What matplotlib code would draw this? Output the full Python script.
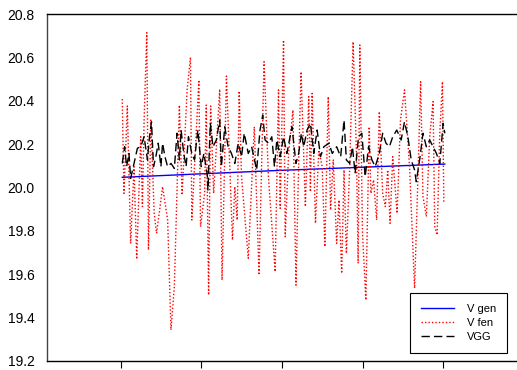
import numpy as np
import matplotlib.pyplot as plt

plt.rcParams['font.family'] = ['Liberation Sans', 'DejaVu Sans']

# Sample positions (1 tick = 240 samples) and readings for each series
gen_idx = [5, 460, 965]
v_gen = [20.047, 20.078, 20.108]

fen_idx = [5, 10, 20, 30, 40, 48, 60, 65, 70, 78,
           83, 90, 100, 107, 115, 125, 140, 150, 160, 175,
           183, 198, 208, 212, 223, 233, 238, 250, 255, 262,
           268, 277, 295, 302, 315, 333, 340, 347, 353, 360,
           380, 398, 412, 427, 440, 460,
           470, 475, 485, 490, 500, 513, 522, 530, 537, 550,
           560, 565, 570, 580, 590, 600, 608, 618, 625, 633,
           643, 650, 658, 665, 672, 682, 692, 702, 707, 712,
           720, 730, 740, 745, 753, 762, 770, 780, 788, 795,
           802, 810, 823, 833, 845, 860, 875, 885, 893, 900,
           910, 920, 930, 935, 942, 950, 958, 962]
v_fen = [20.408, 19.973, 20.376, 19.742, 20.096, 19.669, 20.234, 19.912, 20.311, 20.714,
         19.712, 20.311, 19.881, 19.789, 19.881, 20.004, 19.850, 19.343, 19.543, 20.380,
         19.965, 20.450, 20.600, 19.850, 20.188, 20.496, 19.819, 19.973, 20.380, 19.504,
         20.376, 19.973, 20.453, 19.573, 20.514, 19.758, 20.004, 19.850, 20.445, 20.050,
         19.673, 20.280, 19.596, 20.580, 20.050, 19.612,
         20.450, 19.904, 20.680, 19.773, 20.157, 20.357, 19.550, 20.111, 20.534, 19.912,
         20.419, 19.980, 20.434, 19.835, 20.173, 20.096, 19.727, 20.419, 19.896, 20.127,
         19.742, 19.942, 19.604, 20.081, 19.696, 20.096, 20.672, 20.157, 19.650, 20.657,
         19.789, 19.481, 20.280, 19.973, 20.035, 19.850, 20.350, 19.973, 19.912, 20.081,
         19.835, 20.142, 19.881, 20.311, 20.450, 20.096, 19.535, 20.050, 20.488, 19.958,
         19.866, 20.234, 20.396, 19.819, 19.781, 20.250, 20.488, 19.927]

vgg_idx = [5, 12, 18, 25, 30, 40, 50, 60, 70, 80,
           85, 92, 98, 105, 112, 120, 125, 132, 140, 150,
           160, 168, 175, 180, 188, 195, 202, 212, 220, 230,
           240, 248, 258, 260, 267, 275, 285, 295, 300, 310,
           320, 330, 340, 350, 360, 368, 380, 390, 405, 415,
           423, 430, 440,
           450, 458, 465, 475, 485, 495, 510, 522, 530, 538,
           545, 555, 565, 575, 585, 595, 605, 620, 630, 643,
           655, 665, 672, 682, 690, 698, 708, 718, 728, 738,
           748, 758, 770, 780, 790, 800, 810, 822, 835, 845,
           855, 865, 875, 880, 890, 900, 910, 920, 930, 940,
           950, 960, 965]
v_gg = [20.111, 20.188, 20.096, 20.157, 20.042, 20.111, 20.181, 20.188, 20.234, 20.127,
        20.219, 20.303, 20.096, 20.142, 20.204, 20.096, 20.204, 20.142, 20.096, 20.111,
        20.088, 20.250, 20.127, 20.265, 20.157, 20.096, 20.234, 20.157, 20.127, 20.265,
        20.096, 20.157, 20.058, 19.988, 20.296, 20.188, 20.219, 20.311, 20.096, 20.280,
        20.188, 20.157, 20.111, 20.204, 20.142, 20.250, 20.157, 20.188, 20.081, 20.265,
        20.334, 20.219, 20.204,
        20.234, 20.096, 20.219, 20.142, 20.234, 20.157, 20.280, 20.111, 20.157, 20.250,
        20.188, 20.265, 20.296, 20.157, 20.265, 20.142, 20.188, 20.204, 20.157, 20.188,
        20.142, 20.311, 20.127, 20.111, 20.188, 20.065, 20.234, 20.250, 20.050, 20.188,
        20.127, 20.096, 20.157, 20.250, 20.204, 20.188, 20.234, 20.265, 20.219, 20.303,
        20.234, 20.127, 20.081, 20.027, 20.127, 20.250, 20.188, 20.219, 20.188, 20.157,
        20.111, 20.296, 20.250]

x_gen = np.array(gen_idx) / 240
x_fen = np.array(fen_idx) / 240
x_gg = np.array(vgg_idx) / 240

fig = plt.figure(figsize=(5.17, 3.70), dpi=100)
ax = fig.add_axes([47 / 517, 1 - 361 / 370, 1 - 47 / 517 + 0.01, (361 - 14) / 370])

ax.plot(x_gen, v_gen, color='blue', lw=1, label='V gen')
ax.plot(x_fen, v_fen, color='red', lw=1, linestyle=(0, (1, 1.5)), label='V fen')
ax.plot(x_gg, v_gg, color='black', lw=1, linestyle=(0, (6, 3)), label='VGG')

ax.set_xlim(-0.9125, 4.98)
ax.set_ylim(19.2, 20.8)
ax.set_yticks(np.arange(19.2, 20.81, 0.2))
ax.set_yticklabels([f'{v:.1f}' for v in np.arange(19.2, 20.81, 0.2)])
ax.set_xticks([0, 1, 2, 3, 4])
ax.set_xticklabels([])
ax.tick_params(axis='x', direction='out', length=5, width=0.8)
ax.tick_params(axis='y', length=0, pad=9, labelsize=10)
for s in ['left', 'top', 'bottom']:
    ax.spines[s].set_linewidth(1)
ax.spines['left'].set_color('#444444')

leg = ax.legend(loc='lower right', bbox_to_anchor=(0.968, 0.023), borderaxespad=0,
                fontsize=8, fancybox=False, edgecolor='black', framealpha=1,
                handlelength=3.0, borderpad=1.0, labelspacing=0.35, handletextpad=1.1)
leg.get_frame().set_linewidth(0.8)

fig.savefig('out.png', dpi=100)
